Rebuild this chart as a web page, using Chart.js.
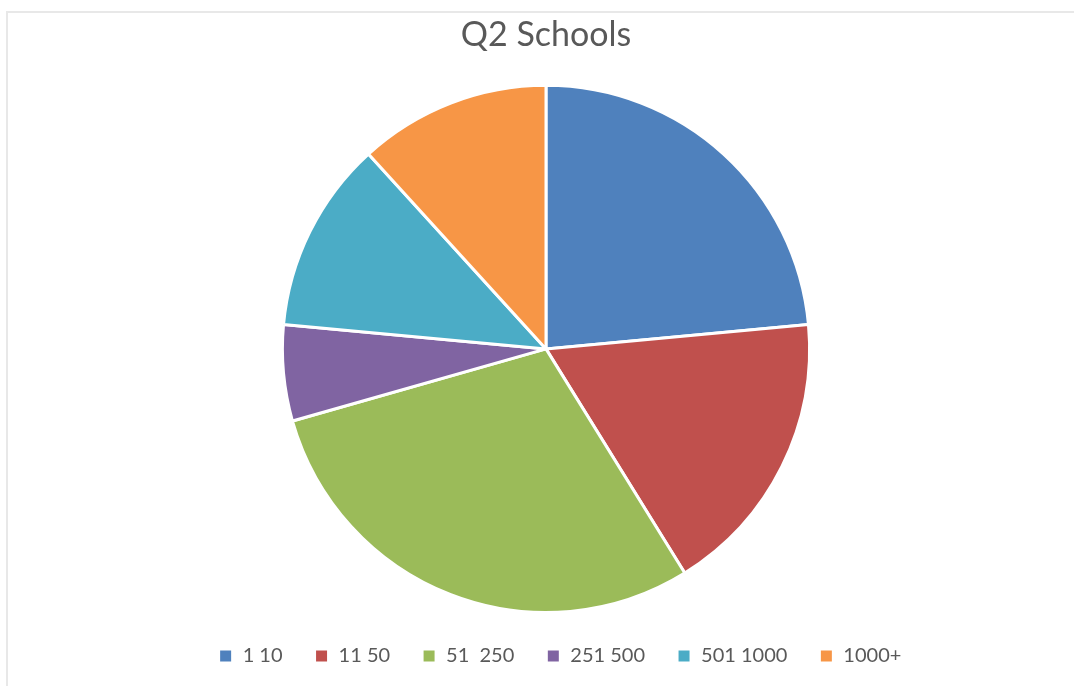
<!DOCTYPE html>
<html>
<head>
<meta charset="utf-8">
<script src="https://cdn.jsdelivr.net/npm/chart.js@4.4.0/dist/chart.umd.min.js"></script>
<style>
    html, body { margin: 0; padding: 0; background: #fff; }
    #frame {
        position: absolute; left: 6px; top: 11px; width: 1068px; height: 675px;
        border-top: 2px solid #e8e8e8; border-left: 2px solid #e8e8e8;
    }
    #wrap { position: absolute; left: 0; top: 0; width: 1074px; height: 686px; }
</style>
</head>
<body>
<div id="frame"></div>
<div id="wrap"><canvas id="pie"></canvas></div>
<script>
// Schools by size band, Q2
const categories = ['1 10', '11 50', '51  250', '251 500', '501 1000', '1000+'];
const schoolCounts = [4, 3, 5, 1, 2, 2];
const sliceColors = ['#4F81BD', '#C0504D', '#9BBB59', '#8064A2', '#4BACC6', '#F79646'];

// nudge the legend row a bit to the right of the pie centre
const legendShift = {
    id: 'legendShift',
    afterLayout(chart) {
        if (chart.legend) {
            chart.legend.left += 14;
            chart.legend.right += 14;
        }
    }
};

document.addEventListener('DOMContentLoaded', function () {
    const ctx = document.getElementById('pie').getContext('2d');
    new Chart(ctx, {
        type: 'pie',
        data: {
            labels: categories,
            datasets: [{
                data: schoolCounts,
                backgroundColor: sliceColors,
                borderColor: '#ffffff',
                borderWidth: 3
            }]
        },
        options: {
            responsive: true,
            maintainAspectRatio: false,
            animation: false,
            layout: { padding: { left: 18, right: 0, top: 0, bottom: 10 } },
            plugins: {
                title: {
                    display: true,
                    text: 'Q2 Schools',
                    color: '#595959',
                    font: { family: 'Lato', size: 34, weight: 'normal', lineHeight: 1.2 },
                    padding: { top: 15, bottom: 28 }
                },
                legend: {
                    position: 'bottom',
                    labels: {
                        color: '#595959',
                        font: { family: 'Lato', size: 20 },
                        boxWidth: 14,
                        boxHeight: 14,
                        padding: 32
                    }
                },
                tooltip: { enabled: false }
            }
        },
        plugins: [legendShift]
    });
});
</script>
</body>
</html>
